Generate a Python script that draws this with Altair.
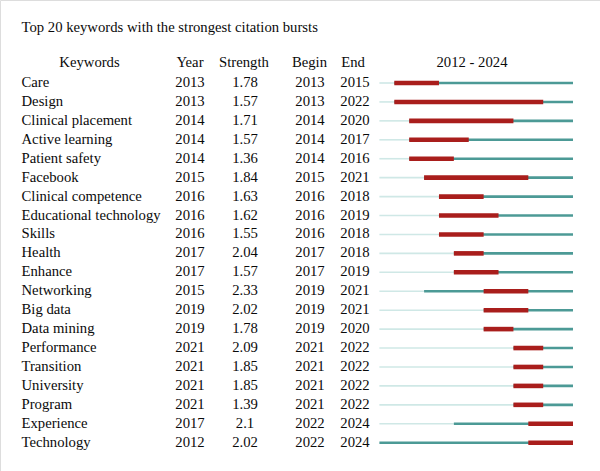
import altair as alt
import pandas as pd

# Burst table: keyword, first year, burst strength, burst begin and end
keywords = [
    "Care", "Design", "Clinical placement", "Active learning", "Patient safety",
    "Facebook", "Clinical competence", "Educational technology", "Skills", "Health",
    "Enhance", "Networking", "Big data", "Data mining", "Performance",
    "Transition", "University", "Program", "Experience", "Technology",
]
years = [2013, 2013, 2014, 2014, 2014, 2015, 2016, 2016, 2016, 2017,
         2017, 2015, 2019, 2019, 2021, 2021, 2021, 2021, 2017, 2012]
strengths = ["1.78", "1.57", "1.71", "1.57", "1.36", "1.84", "1.63", "1.62", "1.55", "2.04",
             "1.57", "2.33", "2.02", "1.78", "2.09", "1.85", "1.85", "1.39", "2.1", "2.02"]
begins = [2013, 2013, 2014, 2014, 2014, 2015, 2016, 2016, 2016, 2017,
          2017, 2019, 2019, 2019, 2021, 2021, 2021, 2021, 2022, 2022]
ends = [2015, 2022, 2020, 2017, 2016, 2021, 2018, 2019, 2018, 2018,
        2019, 2021, 2021, 2020, 2022, 2022, 2022, 2022, 2024, 2024]
first_year, last_year = 2012, 2024

df = pd.DataFrame({
    "Keyword": keywords,
    "Year": years,
    "Strength": strengths,
    "Begin": begins,
    "End": ends,
})

FONT = "Liberation Serif"
FS = 14.7
INK = "#0a0a0a"

y_enc = alt.Y("Keyword:N", scale=alt.Scale(type="point", domain=keywords, range=[83, 442.7], padding=0), axis=None)
x_scale = alt.Scale(domain=[first_year, last_year + 1], range=[379.4, 573])

base = alt.Chart(df).transform_calculate(
    StartAll=str(first_year),
    StopAll=str(last_year + 1),
    EndNext="datum.End + 1",
)

# Faint line before the keyword first appears
faint = base.mark_rule(color="#cfe8e6", strokeWidth=1.6, strokeCap="butt").encode(
    x=alt.X("StartAll:Q", scale=x_scale, axis=None),
    x2="Year:Q",
    y=y_enc,
)
# Teal line from the first appearance to the end of the period
active = base.mark_rule(color="#4c9a96", strokeWidth=2.6, strokeCap="butt").encode(
    x=alt.X("Year:Q", scale=x_scale, axis=None),
    x2="StopAll:Q",
    y=y_enc,
)
# Red burst segment
burst = base.mark_rule(color="#a91e1c", strokeWidth=4.6, strokeCap="butt").encode(
    x=alt.X("Begin:Q", scale=x_scale, axis=None),
    x2="EndNext:Q",
    y=y_enc,
)


def column(field, xpos, align):
    return base.mark_text(font=FONT, fontSize=FS, align=align, baseline="middle", color=INK).encode(
        x=alt.value(xpos), y=y_enc, text=f"{field}:N"
    )


cols = [
    column("Keyword", 21.5, "left"),
    column("Year", 190, "center"),
    column("Strength", 245, "center"),
    column("Begin", 310, "center"),
    column("End", 355, "center"),
]

headers_df = pd.DataFrame({
    "label": ["Keywords", "Year", "Strength", "Begin", "End", f"{first_year} - {last_year}"],
    "xpos": [89.5, 190, 244, 309.5, 353, 472],
})
headers = alt.Chart(headers_df).mark_text(font=FONT, fontSize=FS, align="center", baseline="middle", color=INK).encode(
    x=alt.X("xpos:Q", scale=alt.Scale(domain=[0, 600], range=[0, 600]), axis=None),
    y=alt.value(62.5),
    text="label:N",
)

title = alt.Chart(pd.DataFrame({"t": ["Top 20 keywords with the strongest citation bursts"]})).mark_text(
    font=FONT, fontSize=FS, align="left", baseline="middle", color=INK
).encode(x=alt.value(21.5), y=alt.value(27.5), text="t:N")

chart = alt.layer(faint, active, burst, *cols, headers, title).resolve_scale(x="independent").properties(
    width=600, height=471, padding=0, autosize=alt.AutoSizeParams(type="none")
).configure_view(stroke=None).configure(background="white")

chart.save("out.html", embed_options={"renderer": "svg", "actions": False})
